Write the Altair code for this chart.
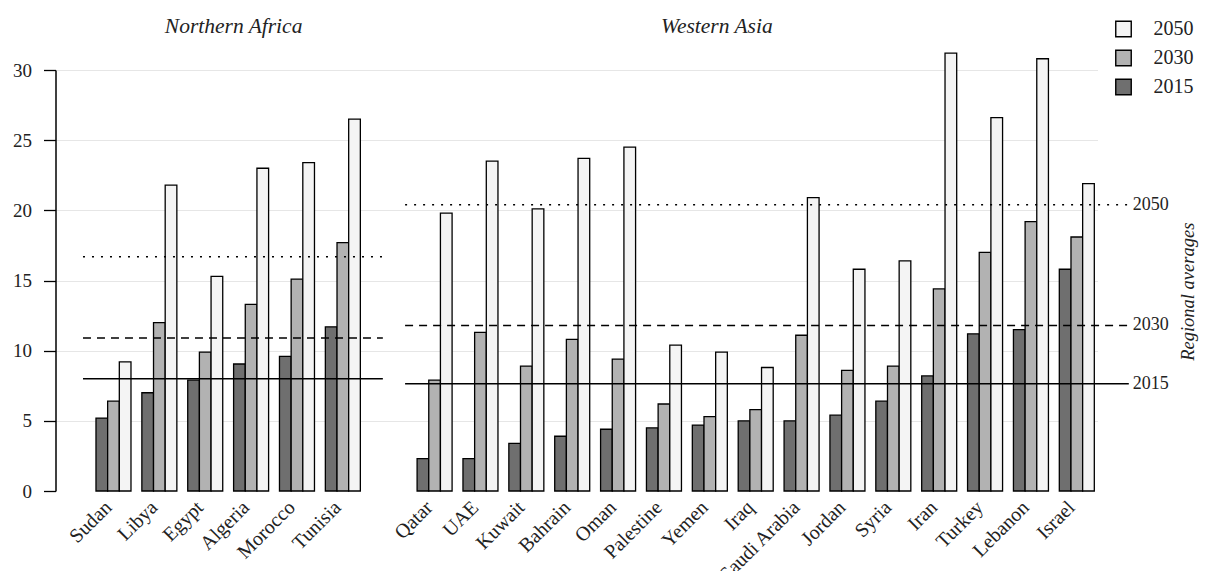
import altair as alt
import pandas as pd

FONT = "Liberation Serif"
TXT = "#222222"

years = ["2015", "2030", "2050"]

na_countries = ["Sudan", "Libya", "Egypt", "Algeria", "Morocco", "Tunisia"]
na_2015 = [5.2, 7.0, 7.9, 9.05, 9.6, 11.7]
na_2030 = [6.4, 12.0, 9.9, 13.3, 15.1, 17.7]
na_2050 = [9.2, 21.8, 15.3, 23.0, 23.4, 26.5]

wa_countries = ["Qatar", "UAE", "Kuwait", "Bahrain", "Oman", "Palestine", "Yemen",
                "Iraq", "Saudi Arabia", "Jordan", "Syria", "Iran", "Turkey",
                "Lebanon", "Israel"]
wa_2015 = [2.3, 2.3, 3.4, 3.9, 4.4, 4.5, 4.7, 5.0, 5.0, 5.4, 6.4, 8.2, 11.2, 11.5, 15.8]
wa_2030 = [7.9, 11.3, 8.9, 10.8, 9.4, 6.2, 5.3, 5.8, 11.1, 8.6, 8.9, 14.4, 17.0, 19.2, 18.1]
wa_2050 = [19.8, 23.5, 20.1, 23.7, 24.5, 10.4, 9.9, 8.8, 20.9, 15.8, 16.4, 31.2, 26.6, 30.8, 21.9]

regions = ["Northern Africa", "Western Asia"]
avg_na = [8.0, 10.9, 16.7]
avg_wa = [7.65, 11.8, 20.4]

GAP = " "
slots = na_countries + [GAP] + wa_countries

rows = []
for cs, series in [(na_countries, [na_2015, na_2030, na_2050]),
                   (wa_countries, [wa_2015, wa_2030, wa_2050])]:
    for i, c in enumerate(cs):
        for y, s in zip(years, series):
            rows.append({"country": c, "year": y, "value": s[i]})
bars_df = pd.DataFrame(rows)

avg_rows = []
for reg, cs, avgs in [("Northern Africa", na_countries, avg_na),
                      ("Western Asia", wa_countries, avg_wa)]:
    for y, v in zip(years, avgs):
        avg_rows.append({"region": reg, "year": y, "value": v,
                         "start": cs[0], "end": cs[-1]})
avg_df = pd.DataFrame(avg_rows)

W, H = 1042, 421

xscale = alt.Scale(domain=slots, paddingInner=0.237, paddingOuter=0.476,
                   align=0.927, round=False)
yscale = alt.Scale(domain=[0, 30], nice=False, zero=True)

xaxis = alt.Axis(title=None, labelAngle=315, domain=False, ticks=False, grid=False,
                 labelFont=FONT, labelFontSize=20, labelColor=TXT,
                 labelAlign="right", labelBaseline="middle", labelPadding=13,
                 labelOffset=-5)
yaxis = alt.Axis(title=None, values=[0, 5, 10, 15, 20, 25, 30], tickSize=12,
                 tickColor="black", tickWidth=1.3, domainColor="black",
                 domainWidth=1.5, labelPadding=12, labelFont=FONT,
                 labelFontSize=19, labelColor=TXT, grid=True,
                 gridColor=alt.condition("datum.value === 0",
                                         alt.value("transparent"),
                                         alt.value("#e6e6e6")),
                 gridWidth=1.2)

bars = alt.Chart(bars_df).mark_bar(stroke="black", strokeWidth=1.3).encode(
    x=alt.X("country:N", scale=xscale, axis=xaxis),
    xOffset=alt.XOffset("year:N", sort=years,
                        scale=alt.Scale(paddingInner=0, paddingOuter=0)),
    y=alt.Y("value:Q", scale=yscale, axis=yaxis),
    fill=alt.Fill("year:N",
                  scale=alt.Scale(domain=["2050", "2030", "2015"],
                                  range=["#f4f4f4", "#b2b2b2", "#6f6f6f"]),
                  legend=alt.Legend(title=None, orient="none", legendX=1058,
                                    legendY=-51, symbolType="square",
                                    symbolSize=240, symbolStrokeColor="black",
                                    symbolStrokeWidth=1.4, labelFont=FONT,
                                    labelFontSize=20, labelColor=TXT,
                                    labelOffset=20, rowPadding=7, padding=0)),
)

dash = alt.StrokeDash("year:N", scale=alt.Scale(domain=years,
                                                range=[[1, 0], [8, 6], [2, 7]]),
                      legend=None)


def rule_layer(region, off0, off1):
    return alt.Chart(avg_df[avg_df.region == region]).mark_rule(
        color="black", strokeWidth=1.5, xOffset=off0, x2Offset=off1).encode(
        x=alt.X("start:N", scale=xscale, axis=xaxis, bandPosition=0),
        x2=alt.X2("end:N", bandPosition=1),
        y=alt.Y("value:Q", scale=yscale, axis=yaxis),
        strokeDash=dash,
    )


rules_na = rule_layer("Northern Africa", -13, 22.5)
rules_wa = rule_layer("Western Asia", -12, 34.5)

wa_labels = alt.Chart(avg_df[avg_df.region == "Western Asia"]).mark_text(
    align="left", baseline="middle", font=FONT, fontSize=18, color=TXT,
    xOffset=38.5).encode(
    x=alt.X("end:N", scale=xscale, axis=xaxis, bandPosition=1),
    y=alt.Y("value:Q", scale=yscale, axis=yaxis),
    text="year:N",
)

title_df = pd.DataFrame({"region": regions, "anchor": ["Algeria", "Yemen"]})


def title_layer(region, bp):
    return alt.Chart(title_df[title_df.region == region]).mark_text(
        align="center", baseline="alphabetic", font=FONT, fontSize=21.5,
        fontStyle="italic", color=TXT).encode(
        x=alt.X("anchor:N", scale=xscale, axis=xaxis, bandPosition=bp),
        y=alt.value(-37),
        text="region:N",
    )


side_df = pd.DataFrame({"label": ["Regional averages"], "anchor": ["Israel"],
                        "value": [14.2]})
side = alt.Chart(side_df).mark_text(
    align="center", baseline="middle", angle=270, font=FONT, fontSize=18.5,
    fontStyle="italic", color=TXT, xOffset=94).encode(
    x=alt.X("anchor:N", scale=xscale, axis=xaxis, bandPosition=1),
    y=alt.Y("value:Q", scale=yscale, axis=yaxis),
    text="label:N",
)

chart = alt.layer(
    bars, rules_na, rules_wa, wa_labels,
    title_layer("Northern Africa", 0.0), title_layer("Western Asia", 0.7), side,
).properties(
    width=W, height=H,
    background="white",
    autosize=alt.AutoSizeParams(type="none"),
    padding={"left": 47.5, "top": 62, "right": 102, "bottom": 80},
).configure(
    view=alt.ViewConfig(stroke=None, strokeWidth=0),
    style={"cell": {"stroke": "transparent", "strokeWidth": 0}},
    axis=alt.AxisConfig(labelFont=FONT, tickBand="center", gridCap="butt"),
    axisX=alt.AxisConfig(grid=False, domain=False, ticks=False),
    axisRight=alt.AxisConfig(domain=False, ticks=False, labels=False, grid=False),
)

chart.save("out.html", embed_options={"renderer": "svg", "actions": False})
